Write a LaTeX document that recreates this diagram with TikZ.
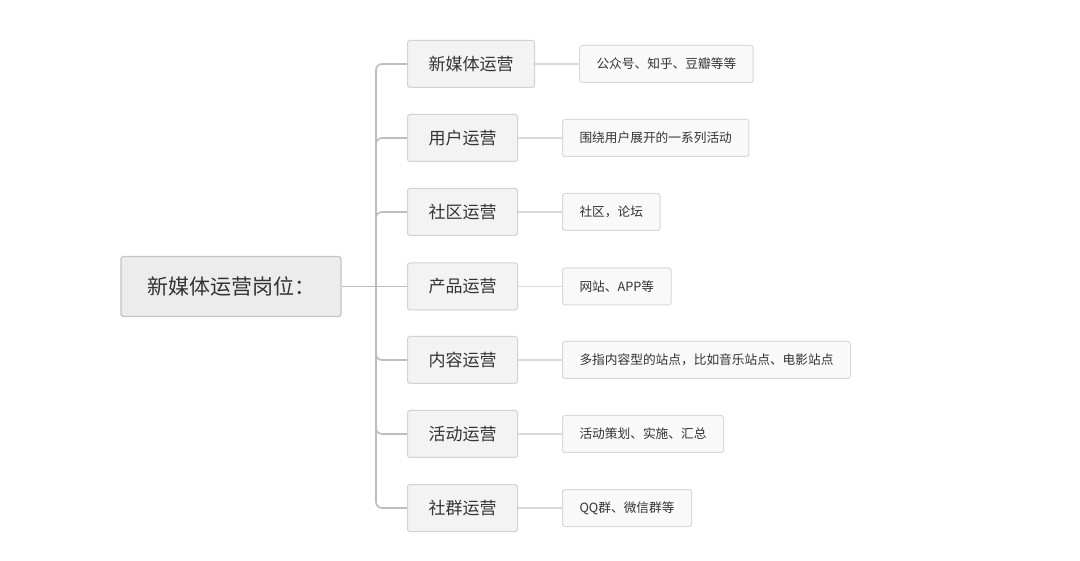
\documentclass[tikz,border=0pt]{standalone}
\usepackage{fontspec}
\setmainfont{Noto Sans CJK SC}
\usepackage{tikz}
\usepackage{xcolor}

\definecolor{inkgray}{HTML}{333333}
\definecolor{rootfill}{HTML}{ECECEC}
\definecolor{rootline}{HTML}{C4C4C4}
\definecolor{jobfill}{HTML}{F3F3F3}
\definecolor{jobline}{HTML}{D2D2D2}
\definecolor{notefill}{HTML}{F9F9F9}
\definecolor{noteline}{HTML}{D9D9D9}
\definecolor{trunkline}{HTML}{BDBDBD}
\definecolor{twigline}{HTML}{DADADA}

\tikzset{
  rootbox/.style={draw=rootline, fill=rootfill, rounded corners=2.5pt, line width=1.2pt,
    text=inkgray, font=\fontsize{21}{24}\selectfont, inner xsep=26pt,
    minimum height=60pt, anchor=center},
  jobbox/.style={draw=jobline, fill=jobfill, rounded corners=2.5pt, line width=1pt,
    text=inkgray, font=\fontsize{17}{20}\selectfont, inner xsep=21pt,
    minimum height=47pt, anchor=west},
  notebox/.style={draw=noteline, fill=notefill, rounded corners=2.5pt, line width=1pt,
    text=inkgray, font=\fontsize{12.7}{15}\selectfont, inner xsep=17pt,
    minimum height=37pt, anchor=west},
  trunk/.style={draw=trunkline, line width=1.6pt, rounded corners=6pt},
  twig/.style={draw=twigline, line width=1.2pt}
}

\begin{document}
\begin{tikzpicture}[x=1pt,y=-1pt]
  \useasboundingbox[fill=white] (0,0) rectangle (1080,561);

  % root
  \node[rootbox] (root) at (231,286.5) {新媒体运营岗位：};
  \coordinate (fork) at (376,286.5);

  % jobs
  \node[jobbox] (job1) at (407,64)  {新媒体运营};
  \node[jobbox] (job2) at (407,138) {用户运营};
  \node[jobbox] (job3) at (407,212) {社区运营};
  \node[jobbox] (job4) at (407,286.5) {产品运营};
  \node[jobbox] (job5) at (407,360) {内容运营};
  \node[jobbox] (job6) at (407,434) {活动运营};
  \node[jobbox] (job7) at (407,508) {社群运营};

  % notes
  \node[notebox] (note1) at (579,64)  {公众号、知乎、豆瓣等等};
  \node[notebox] (note2) at (562,138) {围绕用户展开的一系列活动};
  \node[notebox] (note3) at (562,212) {社区，论坛};
  \node[notebox] (note4) at (562,286.5) {网站、APP等};
  \node[notebox] (note5) at (562,360) {多指内容型的站点，比如音乐站点、电影站点};
  \node[notebox] (note6) at (562,434) {活动策划、实施、汇总};
  \node[notebox] (note7) at (562,508) {QQ群、微信群等};

  % trunk
  \draw[trunk] (root.east) -- (job4.west);
  \draw[trunk] (fork) |- (job1.west);
  \draw[trunk] (fork) |- (job2.west);
  \draw[trunk] (fork) |- (job3.west);
  \draw[trunk] (fork) |- (job5.west);
  \draw[trunk] (fork) |- (job6.west);
  \draw[trunk] (fork) |- (job7.west);

  % twigs
  \draw[twig] (job1.east) -- (note1.west);
  \draw[twig] (job2.east) -- (note2.west);
  \draw[twig] (job3.east) -- (note3.west);
  \draw[twig] (job4.east) -- (note4.west);
  \draw[twig] (job5.east) -- (note5.west);
  \draw[twig] (job6.east) -- (note6.west);
  \draw[twig] (job7.east) -- (note7.west);
\end{tikzpicture}
\end{document}
